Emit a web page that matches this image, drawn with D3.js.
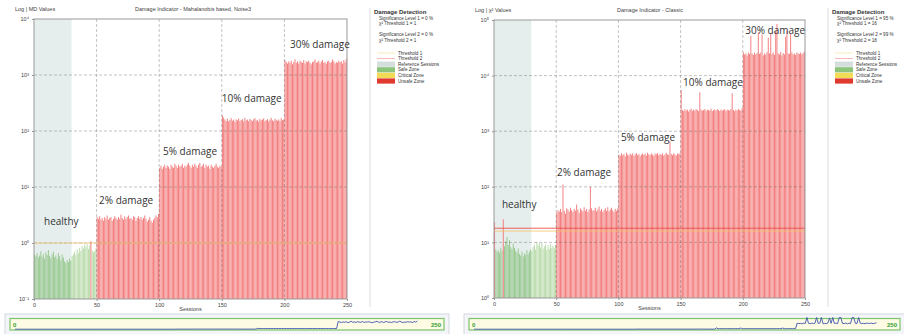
<!DOCTYPE html>
<html>
<head>
<meta charset="utf-8">
<script src="https://cdn.jsdelivr.net/npm/d3@7"></script>
<style>
body { margin: 0; background: #fff; }
svg { display: block; font-family: "Liberation Sans", Arial, sans-serif; }
.dmg { font-family: "Open Sans", sans-serif; font-size: 10px; fill: #333; }
</style>
</head>
<body>
<script>
// ---- data ----
// sessions 0..249, 50 per stage
var stageLabels = ["healthy", "2% damage", "5% damage", "10% damage", "30% damage"];
var xTicks = [0, 50, 100, 150, 200, 250];

// left chart: Mahalanobis distance values
var mdHealthy = [0.62,0.58,0.66,0.55,0.60,0.71,0.57,0.64,0.52,0.68,0.61,0.75,0.59,0.54,0.63,0.70,0.56,0.60,0.52,0.66,
  0.58,0.49,0.62,0.55,0.47,0.44,0.50,0.46,0.53,0.48,0.58,0.63,0.70,0.61,0.77,0.66,0.82,0.72,0.88,0.79,
  0.93,0.85,0.95,0.78,0.90,1.08,0.74,0.68,0.72,0.80];
var md2 = [2.9,2.7,3.0,2.6,2.8,2.5,2.9,2.7,3.1,2.6,2.8,2.9,2.5,2.7,3.0,2.8,2.6,2.9,2.7,3.2,
  2.8,2.6,3.0,2.7,2.9,3.1,2.7,2.8,2.6,3.0,2.9,2.5,2.8,3.0,2.7,2.9,2.6,2.8,3.1,2.7,
  2.4,2.6,2.9,2.5,2.3,2.6,2.8,3.1,2.9,3.3];
var md5 = [22,24,21,23,25,22,24,23,21,25,23,22,26,24,22,25,23,24,26,22,
  24,23,25,27,24,22,25,23,26,24,22,25,27,23,24,26,22,25,23,24,
  21,25,23,22,24,26,23,22,24,23];
var md10 = [190,175,160,150,165,148,158,170,152,160,145,162,155,168,150,158,163,148,172,155,
  160,150,165,157,149,162,170,153,158,146,164,155,160,168,150,157,163,148,160,172,
  155,150,166,158,152,161,149,170,156,160];
var md30 = [1850,1700,1600,1750,1650,1800,1550,1700,1900,1650,1750,1600,1800,1700,1650,1850,1600,1750,1700,1800,
  1650,1550,1700,1750,1900,1650,1700,1800,1600,1750,1850,1650,1700,1600,1750,1800,1650,1700,1900,1750,
  1600,1700,1650,1800,1700,1750,1600,1850,1700,1950];

// right chart: classic chi-square values
var chiHealthy = [23,7.5,6.8,7.2,6.5,8.0,7.0,26,8.5,10.5,12.5,9.0,11.0,8.2,7.6,9.5,8.0,7.1,6.6,7.8,
  6.2,5.8,6.9,5.6,6.4,5.9,7.3,6.1,6.8,7.5,7.0,8.3,9.1,7.4,10.2,8.8,9.6,8.1,9.9,7.7,
  8.5,9.2,7.3,8.9,7.6,9.4,8.0,8.7,7.9,9.0];
var chi2 = [34,38,36,40,35,110,37,33,41,39,36,42,38,35,40,37,48,39,34,41,
  38,36,43,37,40,35,39,100,41,37,38,42,36,39,44,37,40,35,38,41,
  37,43,36,39,42,38,35,40,37,41];
var chi5 = [380,360,400,370,390,350,410,380,365,395,375,400,360,385,405,370,390,355,380,400,
  375,395,365,410,385,370,400,380,360,395,385,405,370,390,375,400,365,385,410,380,
  375,660,390,370,400,380,365,395,385,400];
var chi10 = [5500,2400,2300,2500,2350,2450,2250,2400,2550,2300,2450,2350,2500,2400,2300,5000,2450,2350,2400,2500,
  2300,2450,2400,2350,2550,2300,2400,2450,2350,2500,2400,2300,2450,2350,2400,2500,2300,2450,2400,2350,
  2500,4800,2400,2300,2450,2350,2500,2400,2350,2600];
var chi30 = [26000,24000,25000,23000,26000,24500,52000,25000,23500,26000,24000,25500,60000,24500,26000,55000,23000,25000,24000,26500,
  48000,25000,58000,24500,26000,23500,62000,85000,25000,24000,26500,23000,25500,24000,50000,64000,25000,24500,56000,26000,
  24000,25000,23500,26000,25000,24500,26000,24000,25500,27000];

var refSessions = 30;

// ---- drawing ----
var svg = d3.select("body").append("svg")
    .attr("width", 904)
    .attr("height", 334);

function sup(n) {
  var m = {"-": "\u207B", "0": "\u2070", "1": "\u00B9", "2": "\u00B2", "3": "\u00B3", "4": "\u2074", "5": "\u2075"};
  return String(n).split("").map(function(c) { return m[c]; }).join("");
}

function drawPanel(p) {
  var data = [].concat(p.series[0], p.series[1], p.series[2], p.series[3], p.series[4]);
  var g = svg.append("g");

  var x = d3.scaleLinear().domain([0, 250]).range([p.left, p.right]);
  var y = d3.scaleLog().domain(p.yDomain).range([p.bottom, p.top]);
  var bw = x(1) - x(0);

  // reference sessions zone
  g.append("rect")
      .attr("x", x(0)).attr("y", p.top)
      .attr("width", x(refSessions) - x(0)).attr("height", p.bottom - p.top)
      .attr("fill", "#e6eeed");

  // bars
  g.selectAll(".bar")
      .data(data)
    .enter().append("rect")
      .attr("x", function(d, i) { return x(i) + 0.1; })
      .attr("width", bw - 0.3)
      .attr("y", function(d) { return y(d); })
      .attr("height", function(d) { return p.bottom - y(d); })
      .attr("fill", function(d, i) {
        if (d > p.t2) return "#f37a7a";
        if (d > p.t1) return "#f2d85a";
        return i < refSessions ? "#96c88d" : "#b6daa7";
      });

  // grid
  var decades = [];
  for (var e = Math.log10(p.yDomain[0]) + 1; e < Math.log10(p.yDomain[1]); e++) decades.push(Math.pow(10, e));
  g.selectAll(".hgrid")
      .data(decades)
    .enter().append("line")
      .attr("x1", p.left).attr("x2", p.right)
      .attr("y1", function(d) { return y(d); })
      .attr("y2", function(d) { return y(d); })
      .attr("stroke", "rgba(80,80,80,0.35)")
      .attr("stroke-dasharray", "3,2");
  g.selectAll(".vgrid")
      .data(xTicks.slice(1, 5))
    .enter().append("line")
      .attr("y1", p.top).attr("y2", p.bottom)
      .attr("x1", function(d) { return x(d); })
      .attr("x2", function(d) { return x(d); })
      .attr("stroke", "rgba(80,80,80,0.35)")
      .attr("stroke-dasharray", "3,2");

  // threshold lines
  g.append("line")
      .attr("x1", p.left).attr("x2", p.right)
      .attr("y1", y(p.t2)).attr("y2", y(p.t2))
      .attr("stroke", "#e8504a").attr("stroke-width", p.t1 === p.t2 ? 0 : 0.9);
  g.append("line")
      .attr("x1", p.left).attr("x2", p.right)
      .attr("y1", y(p.t1)).attr("y2", y(p.t1))
      .attr("stroke", "#f2c46a").attr("stroke-width", 0.8);

  // frame
  g.append("rect")
      .attr("x", p.left).attr("y", p.top)
      .attr("width", p.right - p.left).attr("height", p.bottom - p.top)
      .attr("fill", "none").attr("stroke", "#999");

  // axes
  var yTicks = [p.yDomain[0]].concat(decades, [p.yDomain[1]]);
  g.append("g")
      .attr("transform", "translate(" + p.left + ",0)")
      .call(d3.axisLeft(y).tickValues(yTicks).tickSize(2)
        .tickFormat(function(d) { return "10" + sup(Math.round(Math.log10(d))); }))
      .call(function(a) {
        a.select(".domain").remove();
        a.selectAll("line").attr("stroke", "#999");
        a.selectAll("text").attr("font-size", "5.5px").attr("fill", "#444")
          .attr("font-family", "Liberation Sans, Arial, sans-serif");
      });
  g.append("g")
      .attr("transform", "translate(0," + p.bottom + ")")
      .call(d3.axisBottom(x).tickValues(xTicks).tickSize(2))
      .call(function(a) {
        a.select(".domain").remove();
        a.selectAll("line").attr("stroke", "#999");
        a.selectAll("text").attr("font-size", "5.5px").attr("fill", "#444").attr("dy", "0.5em")
          .attr("font-family", "Liberation Sans, Arial, sans-serif");
      });

  g.append("text")
      .attr("x", (p.left + p.right) / 2).attr("y", p.bottom + 12)
      .attr("text-anchor", "middle").attr("font-size", "5.5px").attr("fill", "#444")
      .text("Sessions");
  g.append("text")
      .attr("x", p.left - 19).attr("y", p.top - 8)
      .attr("font-size", "5.5px").attr("fill", "#444")
      .text(p.yLabel);
  g.append("text")
      .attr("x", p.titleX).attr("y", p.top - 8)
      .attr("text-anchor", "middle").attr("font-size", "5.5px").attr("fill", "#444")
      .text(p.title);

  // stage labels
  p.labelPos.forEach(function(l, i) {
    g.append("text")
        .attr("class", "dmg")
        .attr("x", x(l[0])).attr("y", y(l[1]))
        .text(stageLabels[i]);
  });

  // separator
  g.append("line")
      .attr("x1", p.sepX).attr("x2", p.sepX)
      .attr("y1", 8).attr("y2", 307)
      .attr("stroke", "#ddd");

  // legend
  var lx = p.sepX + 4;
  g.append("text").attr("x", lx).attr("y", 14)
      .attr("font-size", "6px").attr("font-weight", "bold").attr("fill", "#333")
      .text("Damage Detection");
  var info = ["Significance Level 1 = " + p.sig1 + " %", "\u03C7\u00B2 Threshold 1 = " + p.t1,
              "Significance Level 2 = " + p.sig2 + " %", "\u03C7\u00B2 Threshold 2 = " + p.t2];
  [19.5, 25, 36, 41.5].forEach(function(yy, i) {
    g.append("text").attr("x", lx + 5).attr("y", yy)
        .attr("font-size", "4.6px").attr("fill", "#333").text(info[i]);
  });
  var leg = [
    {name: "Threshold 1", type: "line", color: "#f7ebb8"},
    {name: "Threshold 2", type: "line", color: "#f6b4b4"},
    {name: "Reference Sessions", type: "box", color: "#d3dedd"},
    {name: "Safe Zone", type: "box", color: "#8cc47c"},
    {name: "Critical Zone", type: "box", color: "#f2dc55"},
    {name: "Unsafe Zone", type: "box", color: "#e03a2e"}
  ];
  leg.forEach(function(d, i) {
    var yy = 53 + i * 5.6;
    if (d.type === "line") {
      g.append("line").attr("x1", lx + 3).attr("x2", lx + 21)
          .attr("y1", yy).attr("y2", yy).attr("stroke", d.color);
    } else {
      g.append("rect").attr("x", lx + 3).attr("y", yy - 2.6)
          .attr("width", 18).attr("height", 5.2).attr("fill", d.color);
    }
    g.append("text").attr("x", lx + 24).attr("y", yy + 1.6)
        .attr("font-size", "4.6px").attr("fill", "#333").text(d.name);
  });

  // overview strip
  g.append("rect")
      .attr("x", p.stripX0).attr("y", 314)
      .attr("width", p.stripX1 - p.stripX0 + 5).attr("height", 22)
      .attr("fill", "#f3f5f8").attr("stroke", "#d3d9df");
  g.append("rect")
      .attr("x", p.stripX0 + 5).attr("y", 318.5)
      .attr("width", p.stripX1 - p.stripX0 - 5).attr("height", 11.5)
      .attr("fill", "#fdfbe4").attr("stroke", "#7cc46c").attr("stroke-width", 1.2);
  var sx = d3.scaleLinear().domain([0, 250]).range(p.stripRange);
  var sy = d3.scaleLinear().domain([0, p.stripMax]).range([329.2, 317.5]).clamp(true);
  g.append("path")
      .datum(data)
      .attr("fill", "none").attr("stroke", "#3d55b0").attr("stroke-width", 0.9)
      .attr("d", d3.line().x(function(d, i) { return sx(i); }).y(function(d) { return sy(d); }));
  g.append("text").attr("x", p.stripX0 + 8).attr("y", 327)
      .attr("font-size", "6px").attr("font-weight", "bold").attr("fill", "#2f9e2f").text("0");
  g.append("text").attr("x", p.stripX1 - 3).attr("y", 327)
      .attr("text-anchor", "end")
      .attr("font-size", "6px").attr("font-weight", "bold").attr("fill", "#2f9e2f").text("250");
}

drawPanel({
  series: [mdHealthy, md2, md5, md10, md30],
  left: 34, right: 347, top: 19, bottom: 299,
  yDomain: [0.1, 10000],
  t1: 1, t2: 1, sig1: 0, sig2: 0,
  yLabel: "Log | MD Values",
  title: "Damage Indicator - Mahalanobis based, Noise3",
  titleX: 193,
  labelPos: [[8, 2.1], [52, 5], [103, 37], [150, 330], [204.5, 3000]],
  sepX: 370,
  stripX0: 5, stripX1: 444, stripRange: [15, 419], stripMax: 2800
});

drawPanel({
  series: [chiHealthy, chi2, chi5, chi10, chi30],
  left: 494, right: 805, top: 20, bottom: 298,
  yDomain: [1, 100000],
  t1: 16, t2: 18, sig1: 95, sig2: 99,
  yLabel: "Log | \u03C7\u00B2 Values",
  title: "Damage Indicator - Classic",
  titleX: 650,
  labelPos: [[6.4, 41], [50.6, 154], [102, 680], [152, 6400], [202, 57000]],
  sepX: 828,
  stripX0: 464, stripX1: 900, stripRange: [474, 878], stripMax: 50000
});
</script>
</body>
</html>
